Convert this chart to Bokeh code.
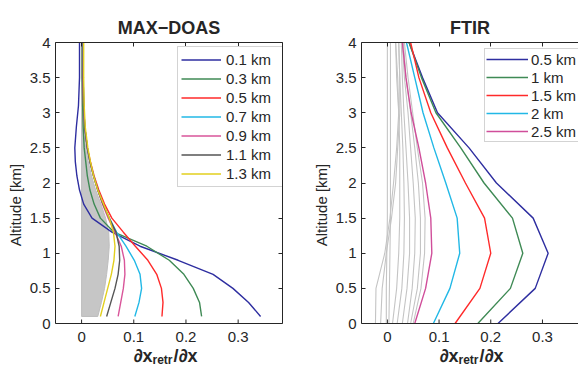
from bokeh.plotting import figure
from bokeh.layouts import row
from bokeh.models import (Range1d, FixedTicker, LinearAxis, Legend, LegendItem,
                          CustomJSTickFormatter, Span)
from bokeh.core.properties import value
from bokeh.embed import file_html
from bokeh.resources import INLINE

FONT = "Liberation Sans"
TXT = "#262626"

# ---------------- MAX-DOAS averaging kernels ----------------
md_alt = [0.1, 0.3, 0.5, 0.7, 0.9, 1.1, 1.3, 1.5, 1.7, 1.9, 2.1, 2.3, 2.5, 2.8, 3.1, 3.5, 4.0]
md_labels = ["0.1 km", "0.3 km", "0.5 km", "0.7 km", "0.9 km", "1.1 km", "1.3 km"]
md_colors = ["#2e2ea0", "#3f8a55", "#ff2a2a", "#22b8e6", "#d9559a", "#555555", "#e2cf1e"]
md_k01 = [0.343, 0.320, 0.290, 0.252, 0.185, 0.112, 0.058, 0.020, 0.004, -0.004, -0.009, -0.012, -0.013, -0.010, -0.006, -0.004, -0.004]
md_k03 = [0.230, 0.226, 0.214, 0.196, 0.168, 0.125, 0.062, 0.036, 0.024, 0.016, 0.011, 0.008, 0.005, 0.003, 0.002, 0.001, 0.001]
md_k05 = [0.154, 0.156, 0.153, 0.144, 0.127, 0.103, 0.080, 0.058, 0.044, 0.033, 0.024, 0.017, 0.011, 0.006, 0.004, 0.002, 0.002]
md_k07 = [0.102, 0.110, 0.115, 0.112, 0.101, 0.085, 0.067, 0.053, 0.041, 0.031, 0.023, 0.016, 0.011, 0.006, 0.004, 0.003, 0.002]
md_k09 = [0.070, 0.075, 0.080, 0.083, 0.082, 0.076, 0.064, 0.051, 0.040, 0.031, 0.023, 0.016, 0.011, 0.006, 0.004, 0.003, 0.003]
md_k11 = [0.048, 0.056, 0.064, 0.070, 0.073, 0.072, 0.066, 0.053, 0.041, 0.031, 0.023, 0.016, 0.011, 0.006, 0.004, 0.003, 0.003]
md_k13 = [0.036, 0.043, 0.050, 0.057, 0.062, 0.064, 0.061, 0.053, 0.042, 0.031, 0.023, 0.017, 0.012, 0.007, 0.005, 0.004, 0.004]
md_kernels = [md_k01, md_k03, md_k05, md_k07, md_k09, md_k11, md_k13]

# envelope of the grey bundle of higher-altitude kernels
md_gray_alt = [0.1, 0.3, 0.5, 0.7, 0.9, 1.1, 1.3, 1.5, 1.7, 1.9, 2.1, 2.3, 2.5, 2.7, 3.0, 3.5, 4.0]
md_gray_x = [0.031, 0.038, 0.044, 0.048, 0.051, 0.053, 0.052, 0.046, 0.037, 0.027, 0.019, 0.013, 0.009, 0.006, 0.004, 0.003, 0.002]

# ---------------- FTIR averaging kernels ----------------
ft_alt = [0.0, 0.5, 1.0, 1.5, 2.0, 2.5, 3.0, 3.5, 4.0]
ft_labels = ["0.5 km", "1 km", "1.5 km", "2 km", "2.5 km"]
ft_colors = ["#2e2ea0", "#3f8a55", "#ff2a2a", "#22b8e6", "#d04e9a"]
ft_k05 = [0.214, 0.286, 0.311, 0.282, 0.211, 0.158, 0.097, 0.068, 0.042]
ft_k10 = [0.175, 0.238, 0.262, 0.242, 0.187, 0.142, 0.094, 0.066, 0.042]
ft_k15 = [0.131, 0.179, 0.200, 0.188, 0.151, 0.116, 0.084, 0.061, 0.045]
ft_k20 = [0.089, 0.121, 0.140, 0.135, 0.113, 0.090, 0.069, 0.053, 0.037]
ft_k25 = [0.053, 0.074, 0.086, 0.084, 0.074, 0.061, 0.046, 0.036, 0.029]
ft_kernels = [ft_k05, ft_k10, ft_k15, ft_k20, ft_k25]

ft_gray = [
    [-0.023, -0.022, -0.005, 0.005, 0.012, 0.018, 0.022, 0.020, 0.016],
    [-0.013, -0.010, -0.002, 0.008, 0.016, 0.020, 0.024, 0.024, 0.022],
    [-0.002, -0.002, -0.001, 0.000, 0.000, 0.000, 0.000, 0.000, 0.000],
    [0.003, 0.004, 0.005, 0.006, 0.006, 0.006, 0.006, 0.006, 0.006],
    [0.010, 0.018, 0.022, 0.024, 0.024, 0.024, 0.022, 0.018, 0.016],
    [0.019, 0.028, 0.032, 0.033, 0.032, 0.030, 0.027, 0.024, 0.022],
    [0.029, 0.038, 0.043, 0.043, 0.040, 0.036, 0.032, 0.029, 0.027],
    [0.039, 0.048, 0.053, 0.054, 0.050, 0.045, 0.040, 0.033, 0.029],
    [0.045, 0.058, 0.064, 0.064, 0.060, 0.053, 0.045, 0.036, 0.031],
    [0.050, 0.065, 0.072, 0.073, 0.068, 0.058, 0.049, 0.040, 0.033],
]

x_ticks = [0, 0.1, 0.2, 0.3]
x_tick_labels = ["0", "0.1", "0.2", "0.3"]
y_ticks = [0, 0.5, 1, 1.5, 2, 2.5, 3, 3.5, 4]
x_start = -0.05
Y_TOP = 4.0

# layout in pixels
PLOT_H = 281          # height of the 0..4 km box
BELOW = 44            # space under the box for tick labels and x label
KM_PX = PLOT_H / Y_TOP
Y_BOTTOM = -BELOW / KM_PX


def style_axis(ax, ticks, labels=True):
    ax.ticker = FixedTicker(ticks=ticks)
    ax.axis_line_color = TXT
    ax.major_tick_line_color = TXT
    ax.major_tick_in = 4
    ax.major_tick_out = 0
    ax.minor_tick_line_color = None
    ax.major_label_text_font = FONT
    ax.major_label_text_font_size = "15px"
    ax.major_label_text_color = TXT
    if not labels:
        ax.formatter = CustomJSTickFormatter(code="return ''")
        ax.major_label_standoff = 0


def make_fig(title, frame_w, bl, br, x_end, right_axis, title_offset):
    p = figure(frame_width=frame_w, frame_height=PLOT_H + BELOW,
               min_border_left=bl, min_border_right=br, min_border_top=42, min_border_bottom=0,
               x_range=Range1d(x_start, x_end), y_range=Range1d(Y_BOTTOM, Y_TOP),
               x_axis_location=None,
               output_backend="svg", toolbar_location=None, title=title)
    p.outline_line_color = None
    p.xgrid.visible = False
    p.ygrid.visible = False
    p.background_fill_color = "white"
    p.border_fill_color = "white"
    p.title.text_font = FONT
    p.title.text_font_size = "18px"
    p.title.text_font_style = "bold"
    p.title.text_color = TXT
    p.title.align = "center"
    p.title.offset = title_offset
    ya = p.yaxis[0]
    style_axis(ya, y_ticks)
    ya.bounds = (0, Y_TOP)
    ya.axis_label = "Altitude [km]"
    ya.axis_label_text_font = FONT
    ya.axis_label_text_font_size = "15px"
    ya.axis_label_text_font_style = "normal"
    ya.axis_label_text_color = TXT
    ya.axis_label_standoff = 3
    top = LinearAxis()
    style_axis(top, x_ticks, labels=False)
    p.add_layout(top, "above")
    if right_axis:
        rax = LinearAxis()
        style_axis(rax, y_ticks, labels=False)
        rax.bounds = (0, Y_TOP)
        p.add_layout(rax, "right")

    # bottom axis drawn at 0 km
    p.add_layout(Span(location=0, dimension="width", line_color=TXT, line_width=1))
    p.segment(x0=x_ticks, y0=[0] * len(x_ticks), x1=x_ticks,
              y1=[4 / KM_PX] * len(x_ticks), line_color=TXT, line_width=1)
    p.text(x=x_ticks, y=[0] * len(x_ticks), text=x_tick_labels, y_offset=8,
           text_align="center", text_baseline="top", text_font=value(FONT),
           text_font_size="15px", text_color=TXT)

    # x label: d x_retr / d x (pixel offsets from the box's bottom-left corner)
    sx = frame_w / (x_end - x_start)

    def put(txt, px, py, size):
        p.text(x=[x_start + px / sx], y=[-py / KM_PX], text=[txt],
               text_align="left", text_baseline="alphabetic", text_font=value(FONT),
               text_font_size=size, text_font_style="bold", text_color=TXT)

    put("∂x", 78, 32, "18px")
    put("retr", 97, 36, "12px")
    put("/∂x", 118, 32, "18px")
    return p


# ---------------- left panel ----------------
p1 = make_fig("MAX−DOAS", 227, 55, 8, 0.385, True, 0)
p1.patch([0] + md_gray_x + [0], [md_gray_alt[0]] + md_gray_alt + [md_gray_alt[-1]],
         fill_color="#c6c6c6", line_color="#bdbdbd", line_width=1)
items1 = []
for lab, col, k in zip(md_labels, md_colors, md_kernels):
    r = p1.line(k, md_alt, line_color=col, line_width=1.4)
    items1.append(LegendItem(label=lab, renderers=[r]))
leg1 = Legend(items=items1, location=(122, 136 + BELOW))
# ---------------- right panel ----------------
p2 = make_fig("FTIR", 217, 71, 0, 0.3697, False, 7)
for g in ft_gray:
    p2.line(g, ft_alt, line_color="#c4c4c4", line_width=1.1)
items2 = []
for lab, col, k in zip(ft_labels, ft_colors, ft_kernels):
    r = p2.line(k, ft_alt, line_color=col, line_width=1.4)
    items2.append(LegendItem(label=lab, renderers=[r]))
leg2 = Legend(items=items2, location=(123, 181 + BELOW))

for leg, pad, h, gw, st, lw in ((leg1, 3, 19, 40, 5, 53), (leg2, 1, 18, 42, 3, 50)):
    leg.label_text_font = FONT
    leg.label_text_font_size = "15px"
    leg.label_text_color = TXT
    leg.label_height = h
    leg.glyph_height = h
    leg.glyph_width = gw
    leg.label_width = lw
    leg.label_standoff = st
    leg.spacing = 0
    leg.padding = pad
    leg.margin = 0
    leg.border_line_color = "#a8a8a8"
    leg.background_fill_color = "white"
    leg.background_fill_alpha = 1.0

p1.add_layout(leg1)
p2.add_layout(leg2)

layout = row(p1, p2, spacing=0)
open("out.html", "w").write(file_html(layout, INLINE))
